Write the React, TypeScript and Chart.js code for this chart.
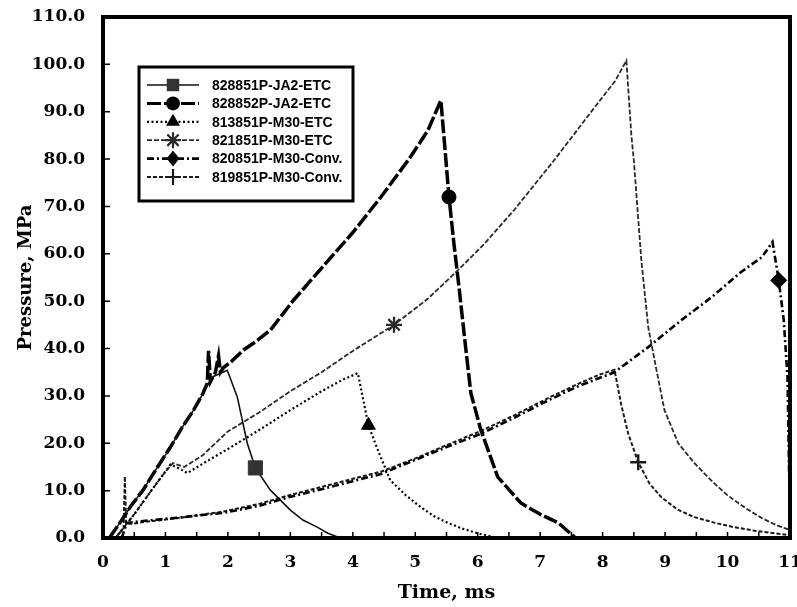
import React, { useEffect, useRef } from 'react';
import { Chart, registerables } from 'chart.js';

Chart.register(...registerables);

// ---------- data ----------
const X_MIN = 0;
const X_MAX = 11;
const Y_MIN = 0;
const Y_MAX = 110;
const X_STEP = 1;
const Y_STEP = 10;

const SERIES_NAMES = [
  '828851P-JA2-ETC',
  '828852P-JA2-ETC',
  '813851P-M30-ETC',
  '821851P-M30-ETC',
  '820851P-M30-Conv.',
  '819851P-M30-Conv.',
];

// 828851P-JA2-ETC
const S1_T = [0.1, 0.27, 0.45, 0.64, 0.85, 1.08, 1.25, 1.45, 1.6, 1.75, 1.99, 2.15, 2.31, 2.44, 2.68, 3.0, 3.2, 3.43, 3.6, 3.76];
const S1_P = [0, 3.2, 6.8, 10.1, 14.5, 19.2, 23, 27, 30.5, 34, 35.4, 29.8, 20, 14.8, 10.1, 5.9, 3.8, 2.3, 1.0, 0.2];
const S1_MARK = 2.44;

// 828852P-JA2-ETC
const S2_T = [0.1, 0.27, 0.45, 0.64, 0.85, 1.08, 1.25, 1.45, 1.6, 1.67, 1.69, 1.72, 1.8, 1.85, 1.88, 1.93, 2.05, 2.25, 2.45, 2.68, 3.05, 3.5, 4.0, 4.45, 4.9, 5.2, 5.41, 5.47, 5.54, 5.62, 5.7, 5.8, 5.89, 6.05, 6.32, 6.69, 7.0, 7.29, 7.55];
const S2_P = [0, 3.2, 6.8, 10.1, 14.5, 19.2, 23, 27, 30.5, 32.7, 39.5, 33, 35, 38.5, 35, 36, 37.2, 39.7, 41.5, 43.9, 50.2, 57, 64.5, 72, 80, 86, 92.4, 83, 72, 62, 53, 41, 30.6, 22.8, 12.9, 7.4, 5, 3.2, 0.2];
const S2_MARK = 5.54;

// 813851P-M30-ETC
const S3_T = [0.2, 0.5, 0.8, 1.08, 1.2, 1.35, 1.7, 2.0, 2.5, 3.0, 3.5, 3.85, 4.08, 4.17, 4.25, 4.4, 4.6, 4.85, 5.09, 5.3, 5.52, 5.75, 6.0, 6.25];
const S3_P = [0, 5, 10.5, 15.5, 14.8, 13.7, 16.5, 18.8, 22.8, 27, 31, 33.5, 34.8, 29, 23.8, 18.6, 12.2, 9, 6.5, 4.6, 3.2, 2, 1.0, 0.2];
const S3_MARK = 4.25;

// 821851P-M30-ETC
const S4_T = [0.2, 0.5, 0.8, 1.0, 1.12, 1.3, 1.6, 2.0, 2.5, 3.0, 3.5, 4.0, 4.66, 5.2, 5.68, 6.1, 6.58, 7.22, 7.87, 8.2, 8.38, 8.46, 8.5, 8.62, 8.73, 8.83, 8.99, 9.21, 9.47, 9.75, 10.0, 10.3, 10.55, 10.8, 11.0];
const S4_P = [0, 5, 10.5, 14, 15.8, 15, 17.5, 22.5, 26.5, 31, 35, 39.5, 45, 50.5, 56.5, 62, 69.2, 79.7, 90.9, 96.5, 100.8, 85, 79.7, 58.6, 44.5, 37.6, 27, 20, 15.8, 12, 9, 6.2, 4.2, 2.6, 1.7];
const S4_MARK = 4.66;

// 820851P-M30-Conv.
const S5_T = [0.3, 0.38, 0.8, 1.2, 1.93, 2.5, 3.0, 3.5, 4.0, 4.45, 5.0, 5.5, 6.05, 6.6, 7.12, 7.6, 8.19, 8.73, 9.26, 9.74, 10.2, 10.55, 10.72, 10.82, 10.9, 10.96, 11.0];
const S5_P = [0, 3.2, 3.8, 4.3, 5.3, 6.8, 8.7, 10.3, 12, 13.5, 16.5, 19.2, 22, 25.5, 29, 32, 35, 40.3, 46, 50.8, 56, 59.3, 62.5, 54.4, 46, 34, 3];
const S5_MARK = 10.82;

// 819851P-M30-Conv.
const S6_T = [0.2, 0.33, 0.35, 0.37, 0.45, 0.8, 1.2, 1.93, 2.5, 3.0, 3.5, 4.0, 4.45, 5.0, 5.5, 6.05, 6.6, 7.12, 7.6, 7.95, 8.19, 8.3, 8.41, 8.57, 8.75, 8.94, 9.2, 9.47, 9.8, 10.1, 10.45, 10.75, 11.0];
const S6_P = [0, 2, 13, 3, 3.0, 3.6, 4.2, 5.6, 7.2, 9.1, 10.8, 12.5, 14, 16.8, 19.6, 22.6, 26, 29.5, 32.5, 34.5, 35.5, 28, 22, 16, 11.5, 8.6, 6, 4.4, 3.2, 2.3, 1.5, 1.0, 0.6];
const S6_MARK = 8.57;

const SERIES_T = [S1_T, S2_T, S3_T, S4_T, S5_T, S6_T];
const SERIES_P = [S1_P, S2_P, S3_P, S4_P, S5_P, S6_P];
const SERIES_MARK = [S1_MARK, S2_MARK, S3_MARK, S4_MARK, S5_MARK, S6_MARK];

// ---------- styles ----------
const STYLES = [
  { color: '#111', width: 1.6, dash: [] as number[], point: 'rect', radius: 10, fill: '#333' },
  { color: '#000', width: 3.5, dash: [14, 3], point: 'circle', radius: 7, fill: '#000' },
  { color: '#000', width: 2.2, dash: [2, 2.5], point: 'triangle', radius: 8, fill: '#000' },
  { color: '#2a2a2a', width: 1.8, dash: [5, 2], point: 'star', radius: 8, fill: '#2a2a2a' },
  { color: '#000', width: 2.6, dash: [7, 3, 2, 3], point: 'rectRot', radius: 8, fill: '#000' },
  { color: '#1a1a1a', width: 2.0, dash: [4, 2], point: 'cross', radius: 8, fill: '#1a1a1a' },
];

const TICK_FONT = { family: 'DejaVu Serif', weight: 'bold' as const, size: 17 };
const LEGEND_FONT = 'bold 14px "Liberation Sans"';

function drawMarker(ctx: CanvasRenderingContext2D, kind: string, x: number, y: number, r: number, color: string) {
  ctx.save();
  ctx.fillStyle = color;
  ctx.strokeStyle = color;
  ctx.setLineDash([]);
  ctx.lineWidth = 2.2;
  ctx.beginPath();
  if (kind === 'rect') {
    const s = r * Math.SQRT1_2;
    ctx.rect(x - s, y - s, 2 * s, 2 * s);
    ctx.fill();
  } else if (kind === 'circle') {
    ctx.arc(x, y, r, 0, Math.PI * 2);
    ctx.fill();
  } else if (kind === 'triangle') {
    ctx.moveTo(x, y - r);
    ctx.lineTo(x + r * 0.866, y + r * 0.5);
    ctx.lineTo(x - r * 0.866, y + r * 0.5);
    ctx.closePath();
    ctx.fill();
  } else if (kind === 'rectRot') {
    ctx.moveTo(x, y - r);
    ctx.lineTo(x + r * 0.8, y);
    ctx.lineTo(x, y + r);
    ctx.lineTo(x - r * 0.8, y);
    ctx.closePath();
    ctx.fill();
  } else if (kind === 'star') {
    for (let k = 0; k < 4; k++) {
      const a = (k * Math.PI) / 4;
      ctx.moveTo(x - r * Math.cos(a), y - r * Math.sin(a));
      ctx.lineTo(x + r * Math.cos(a), y + r * Math.sin(a));
    }
    ctx.stroke();
  } else if (kind === 'cross') {
    ctx.moveTo(x - r, y);
    ctx.lineTo(x + r, y);
    ctx.moveTo(x, y - r);
    ctx.lineTo(x, y + r);
    ctx.stroke();
  }
  ctx.restore();
}

const framePlugin = {
  id: 'frameTicks',
  afterDatasetsDraw(chart: any) {
    const { ctx, chartArea, scales } = chart;
    ctx.save();
    ctx.strokeStyle = '#000';
    ctx.setLineDash([]);
    // inward ticks
    ctx.lineWidth = 1.5;
    ctx.beginPath();
    for (let v = X_MIN; v <= X_MAX; v += X_STEP / 2) {
      const px = scales.x.getPixelForValue(v);
      ctx.moveTo(px, chartArea.bottom);
      ctx.lineTo(px, chartArea.bottom - 6);
    }
    for (let v = Y_MIN; v <= Y_MAX; v += Y_STEP) {
      const py = scales.y.getPixelForValue(v);
      ctx.moveTo(chartArea.left, py);
      ctx.lineTo(chartArea.left + 7, py);
    }
    ctx.stroke();
    // frame
    ctx.lineWidth = 4;
    ctx.strokeRect(chartArea.left, chartArea.top, chartArea.right - chartArea.left, chartArea.bottom - chartArea.top);
    ctx.restore();
  },
};

const boxLegendPlugin = {
  id: 'boxLegend',
  afterDraw(chart: any) {
    const { ctx, chartArea } = chart;
    const bx = chartArea.left + 36;
    const by = chartArea.top + 50;
    const bw = 214;
    const bh = 134;
    ctx.save();
    ctx.fillStyle = '#fff';
    ctx.fillRect(bx, by, bw, bh);
    ctx.lineWidth = 3;
    ctx.strokeStyle = '#000';
    ctx.setLineDash([]);
    ctx.strokeRect(bx, by, bw, bh);
    chart.data.datasets.forEach((ds: any, i: number) => {
      const st = STYLES[i];
      const y = by + 18 + i * 18.4;
      ctx.save();
      ctx.strokeStyle = st.color;
      ctx.lineWidth = Math.min(st.width, 3);
      ctx.setLineDash(st.dash);
      ctx.beginPath();
      ctx.moveTo(bx + 8, y);
      ctx.lineTo(bx + 60, y);
      ctx.stroke();
      ctx.restore();
      drawMarker(ctx, st.point, bx + 34, y, Math.min(st.radius, 8) * (st.point === 'rect' ? 1.1 : 1), st.fill);
      ctx.fillStyle = '#000';
      ctx.font = LEGEND_FONT;
      ctx.textAlign = 'left';
      ctx.textBaseline = 'middle';
      ctx.fillText(ds.label, bx + 73, y + 1);
    });
    ctx.restore();
  },
};

export default function App() {
  const canvasRef = useRef<HTMLCanvasElement | null>(null);

  useEffect(() => {
    if (!canvasRef.current) return;
    const datasets = SERIES_NAMES.map((name, i) => {
      const T = SERIES_T[i];
      const P = SERIES_P[i];
      const st = STYLES[i];
      const markIdx = T.indexOf(SERIES_MARK[i]);
      return {
        label: name,
        data: T.map((t, k) => ({ x: t, y: P[k] })),
        borderColor: st.color,
        borderWidth: st.width,
        borderDash: st.dash,
        backgroundColor: st.fill,
        pointBackgroundColor: st.fill,
        pointBorderColor: st.fill,
        pointBorderWidth: st.point === 'star' || st.point === 'cross' ? 2.4 : 1,
        pointStyle: st.point,
        pointRadius: (c: any) => (c.dataIndex === markIdx ? st.radius : 0),
        pointHoverRadius: (c: any) => (c.dataIndex === markIdx ? st.radius : 0),
        tension: 0,
        fill: false,
      };
    });

    const chart = new Chart(canvasRef.current, {
      type: 'line',
      data: { datasets },
      options: {
        animation: false,
        responsive: false,
        events: [],
        layout: { padding: { top: 17, right: 7, left: 0, bottom: 0 } },
        plugins: { legend: { display: false }, tooltip: { enabled: false } },
        scales: {
          x: {
            type: 'linear',
            min: X_MIN,
            max: X_MAX,
            ticks: { stepSize: X_STEP, font: TICK_FONT, color: '#000', padding: 14, maxRotation: 0, autoSkip: false },
            grid: { display: false, drawTicks: false },
            border: { display: false },
            title: {
              display: true,
              text: 'Time, ms',
              color: '#000',
              font: { family: 'DejaVu Serif', weight: 'bold', size: 19 },
              padding: { top: 0, bottom: 3 },
            },
            afterFit: (s: any) => {
              s.height = 69;
              s.paddingLeft = 0;
              s.paddingRight = 0;
            },
          },
          y: {
            type: 'linear',
            min: Y_MIN,
            max: Y_MAX,
            ticks: {
              stepSize: Y_STEP,
              font: TICK_FONT,
              color: '#000',
              padding: 18,
              callback: (v: any) => Number(v).toFixed(1),
            },
            grid: { display: false, drawTicks: false },
            border: { display: false },
            title: {
              display: true,
              text: 'Pressure, MPa',
              color: '#000',
              font: { family: 'DejaVu Serif', weight: 'bold', size: 18 },
              padding: { top: 16, bottom: 0 },
            },
            afterFit: (s: any) => {
              s.width = 103;
              s.paddingTop = 0;
              s.paddingBottom = 0;
            },
          },
        },
      } as any,
      plugins: [framePlugin, boxLegendPlugin],
    });
    return () => chart.destroy();
  }, []);

  return (
    <div style={{ position: 'fixed', left: 0, top: 0, width: 797, height: 607, background: '#fff' }}>
      <canvas ref={canvasRef} width={797} height={607} />
    </div>
  );
}
